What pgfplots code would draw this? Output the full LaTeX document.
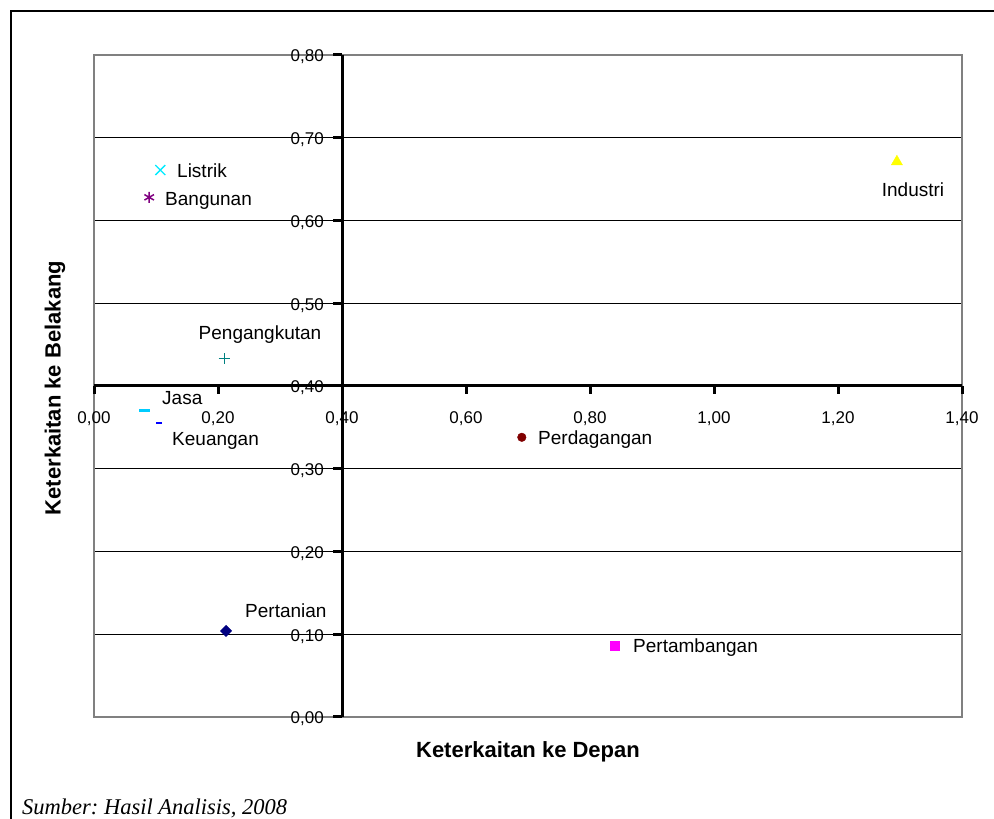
\documentclass[border=0pt]{standalone}
\usepackage{fontspec}
\setmainfont{Liberation Sans}
\newfontfamily\seriffont{Liberation Serif}
\usepackage{pgfplots}
\pgfplotsset{compat=1.18}
\frenchspacing
\definecolor{cListrik}{RGB}{0,235,255}
\definecolor{cJasa}{RGB}{0,204,255}
\definecolor{cBangunan}{RGB}{128,0,128}
\definecolor{cIndustri}{RGB}{255,255,0}
\definecolor{cAngkut}{RGB}{0,128,128}
\definecolor{cKeu}{RGB}{0,0,255}
\definecolor{cDagang}{RGB}{128,0,0}
\definecolor{cTani}{RGB}{0,0,128}
\definecolor{cTambang}{RGB}{255,0,255}
\begin{document}
\begin{tikzpicture}[x=1pt,y=1pt]
\useasboundingbox (0,0) rectangle (994,819);
\draw[line width=2pt] (11,0) -- (11,808) -- (994,808);
\begin{axis}[at={(94pt,102pt)}, anchor=south west, scale only axis,
  width=868pt, height=662pt,
  xmin=0, xmax=1.4, ymin=0, ymax=0.8,
  xtick=\empty, ytick={0.1,0.2,0.3,0.4,0.5,0.6,0.7}, yticklabels={},
  ymajorgrids, major tick length=0pt,
  grid style={black, line width=0.9pt},
  axis line style={draw=gray, line width=1.8pt},
  clip=false,
  /pgf/number format/.cd, use comma, fixed, fixed zerofill, precision=2, assume math mode=true]
  % crossing axes
  \draw[black, line width=3pt] (axis cs:0,0.4) -- (axis cs:1.4,0.4);
  \draw[black, line width=3pt] (axis cs:0.4,0) -- (axis cs:0.4,0.8);
  \pgfplotsinvokeforeach{0,0.2,0.4,0.6,0.8,1.0,1.2,1.4}{
    \draw[black, line width=3pt] (axis cs:#1,0.4) -- ++(0,-8pt);
    \node[font=\fontsize{17}{20}\selectfont, inner sep=0pt, anchor=center] at ([yshift=-33pt]axis cs:#1,0.4) {\pgfmathprintnumber[assume math mode=true]{#1}};
  }
  \pgfplotsinvokeforeach{0,0.1,0.2,0.3,0.4,0.5,0.6,0.7,0.8}{
    \draw[black, line width=3pt] (axis cs:0.4,#1) -- ++(-9pt,0);
    \node[font=\fontsize{17}{20}\selectfont, inner sep=0pt, anchor=east] at ([xshift=-18pt,yshift=-2pt]axis cs:0.4,#1) {\pgfmathprintnumber[assume math mode=true]{#1}};
  }
  % data points
  \addplot[only marks, mark=square*, color=cTani, mark options={rotate=45}, mark size=4pt] coordinates {(0.213,0.104)};
  \addplot[only marks, mark=square*, color=cTambang, mark size=4.5pt] coordinates {(0.840,0.086)};
  \addplot[only marks, mark=triangle*, color=cIndustri, mark size=6.5pt] coordinates {(1.295,0.671)};
  \addplot[only marks, mark=x, color=cListrik, mark size=7pt, mark options={line width=1.3pt}] coordinates {(0.107,0.661)};
  \addplot[only marks, mark=asterisk, color=cBangunan, mark size=5.5pt, mark options={line width=1.5pt}] coordinates {(0.089,0.628)};
  \addplot[only marks, mark=*, color=cDagang, mark size=4.3pt] coordinates {(0.690,0.338)};
  \addplot[only marks, mark=+, color=cAngkut, mark size=5.5pt, mark options={line width=1pt}] coordinates {(0.210,0.433)};
  \addplot[only marks, mark=-, color=cKeu, mark size=3pt, mark options={line width=2.5pt}] coordinates {(0.105,0.355)};
  \addplot[only marks, mark=-, color=cJasa, mark size=5.5pt, mark options={line width=3pt}] coordinates {(0.081,0.370)};
\end{axis}
\begin{scope}[every node/.style={font=\fontsize{19}{22}\selectfont, inner sep=0pt}]
\node[anchor=mid west] at (177,644) {Listrik};
\node[anchor=mid west] at (165,616) {Bangunan};
\node[anchor=mid] at (913,625) {Industri};
\node[anchor=mid] at (260,482) {Pengangkutan};
\node[anchor=mid west] at (162,417) {Jasa};
\node[anchor=mid west] at (172,376) {Keuangan};
\node[anchor=mid west] at (538,377) {Perdagangan};
\node[anchor=mid west] at (245,204) {Pertanian};
\node[anchor=mid west] at (633,169) {Pertambangan};
\end{scope}
\node[font=\bfseries\fontsize{22}{26}\selectfont, inner sep=0pt] at (528,67) {Keterkaitan ke Depan};
\node[font=\bfseries\fontsize{22}{26}\selectfont, inner sep=0pt, rotate=90] at (55,431) {Keterkaitan ke Belakang};
\node[font=\seriffont\itshape\fontsize{22.5}{26}\selectfont, inner sep=0pt, anchor=mid west] at (22,7) {\frenchspacing Sumber: Hasil Analisis, 2008};
\end{tikzpicture}
\end{document}
